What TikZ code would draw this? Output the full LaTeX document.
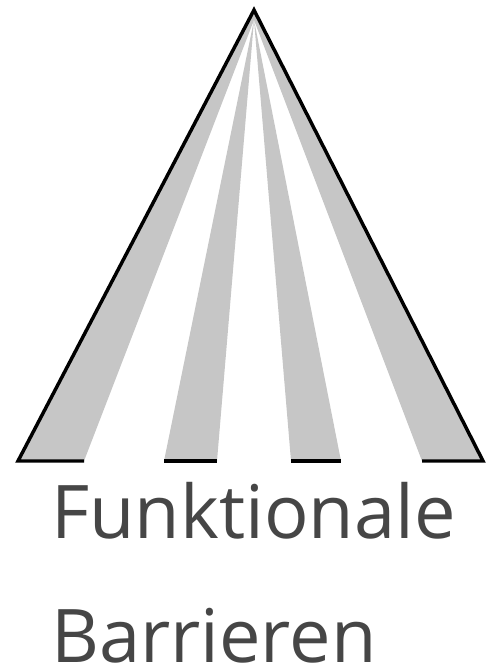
\documentclass[tikz,border=0pt]{standalone}
\usepackage{fontspec}
\setmainfont{Open Sans}
\definecolor{stripegray}{RGB}{198,198,198}
\definecolor{textgray}{RGB}{70,70,70}
\begin{document}
\begin{tikzpicture}[x=0.75pt,y=-0.75pt,
  stripe/.style={fill=stripegray,draw=none},
  outline/.style={draw=black,line width=2.6pt,miter limit=10},
  label/.style={anchor=base west,inner sep=0pt,text depth=0pt,text=textgray,font=\fontsize{55.5}{66}\selectfont}]
\useasboundingbox (0,0) rectangle (486,667);
\coordinate (apex) at (254,10);
\coordinate (focus) at (254,20);
\coordinate (b1l) at (18,461);
\coordinate (b1r) at (84,461);
\coordinate (b2l) at (164,461);
\coordinate (b2r) at (217,461);
\coordinate (b3l) at (291,461);
\coordinate (b3r) at (341,461);
\coordinate (b4l) at (422,461);
\coordinate (b4r) at (483,461);
% gray wedges
\fill[stripegray] (apex) -- (b1l) -- (b1r) -- (focus) -- cycle;
\fill[stripegray] (focus) -- (b2l) -- (b2r) -- cycle;
\fill[stripegray] (focus) -- (b3l) -- (b3r) -- cycle;
\fill[stripegray] (apex) -- (focus) -- (b4l) -- (b4r) -- cycle;
% outline
\draw[outline] (b1r) -- (b1l) -- (apex) -- (b4r) -- (b4l);
\draw[outline] (b2l) -- (b2r);
\draw[outline] (b3l) -- (b3r);
% text
\node[label] (t1) at (51,538) {Funktionale};
\node[label] (t2) at (51,662) {Barrieren};
\end{tikzpicture}
\end{document}
